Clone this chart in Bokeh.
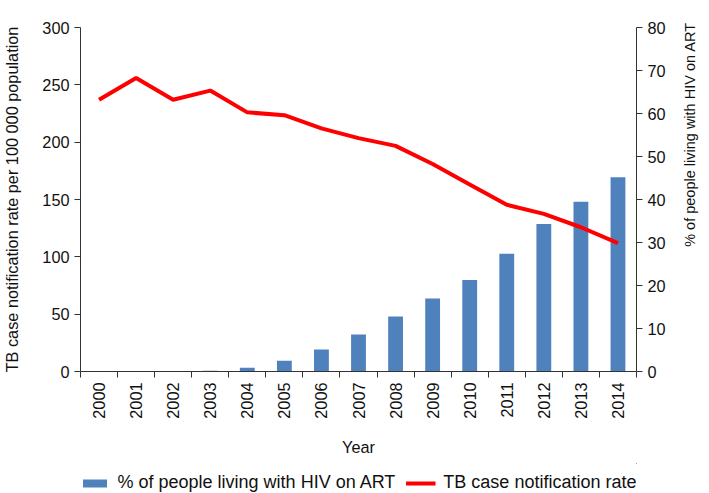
from bokeh.plotting import figure
from bokeh.layouts import column
from bokeh.models import Range1d, LinearAxis, FixedTicker, Legend, LegendItem, ColumnDataSource
from bokeh.embed import file_html
from bokeh.resources import INLINE
import math

years = [2000, 2001, 2002, 2003, 2004, 2005, 2006, 2007, 2008, 2009, 2010, 2011, 2012, 2013, 2014]
art_pct = [0, 0, 0, 0.2, 0.9, 2.5, 5.1, 8.6, 12.8, 17.0, 21.3, 27.4, 34.3, 39.5, 45.2]
tb_rate = [237, 256, 237, 245, 226, 223.5, 212, 203.5, 196.8, 181, 163, 145.4, 137.5, 125.8, 112]
left_ticks = [0, 50, 100, 150, 200, 250, 300]
right_ticks = [0, 10, 20, 30, 40, 50, 60, 70, 80]
series_names = ["% of people living with HIV on ART", "TB case notification rate"]

FONT = "Liberation Sans"
FS = "16.3px"
AX = "#333333"
TXT = "#111111"
BAR_COLOR = "#4F81BD"
LINE_COLOR = "#FF0000"

src = ColumnDataSource(dict(year=years, pct=art_pct, tb=tb_rate))

p = figure(width=709, height=463, output_backend="svg", toolbar_location=None,
           x_range=Range1d(years[0] - 0.5, years[-1] + 0.5), y_range=Range1d(0, 300),
           min_border_left=78, min_border_right=66, min_border_top=27, min_border_bottom=92)
p.extra_y_ranges = {"pct": Range1d(0, 80)}
p.outline_line_color = None
p.xgrid.visible = False
p.ygrid.visible = False

bars = p.vbar(x="year", top="pct", width=0.4, source=src, y_range_name="pct",
              fill_color=BAR_COLOR, line_color=None)
line = p.line(x="year", y="tb", source=src, line_color=LINE_COLOR, line_width=4)

# x axis
xa = p.xaxis[0]
xa.ticker = FixedTicker(ticks=years, minor_ticks=[y - 0.5 for y in years] + [years[-1] + 0.5])
xa.major_tick_line_color = None
xa.minor_tick_line_color = AX
xa.minor_tick_out = 6
xa.minor_tick_in = 0
xa.major_label_orientation = math.pi / 2
xa.axis_label = "Year"
xa.axis_label_standoff = 16

ya = p.yaxis[0]
ya.ticker = FixedTicker(ticks=left_ticks)
ya.axis_label = "TB case notification rate per 100 000 population"
ya.axis_label_standoff = 18

ra = LinearAxis(y_range_name="pct", ticker=FixedTicker(ticks=right_ticks))
p.add_layout(ra, "right")

for ax in [xa, ya, ra]:
    ax.axis_line_color = AX
    ax.major_label_text_font = FONT
    ax.major_label_text_font_size = FS
    ax.major_label_text_color = TXT
    ax.axis_label_text_font = FONT
    ax.axis_label_text_font_size = FS
    ax.axis_label_text_font_style = "normal"
    ax.axis_label_text_color = TXT
    if ax is not xa:
        ax.major_tick_line_color = AX
        ax.major_tick_out = 6
        ax.major_tick_in = 0
        ax.minor_tick_line_color = None

# right-hand title drawn as the single (rotated) tick label of a bare axis, reading bottom to top
rl = LinearAxis(y_range_name="pct", ticker=FixedTicker(ticks=[29]),
                major_label_overrides={29: series_names[0]},
                major_label_orientation=math.pi / 2, major_label_standoff=22,
                axis_line_color=None, major_tick_line_color=None, minor_tick_line_color=None,
                major_tick_out=0, major_tick_in=0,
                major_label_text_font=FONT, major_label_text_font_size="14.5px",
                major_label_text_color=TXT)
p.add_layout(rl, "right")

# legend strip below the chart (proxy renderers use the same data, kept out of view)
lg = figure(width=709, height=30, output_backend="svg", toolbar_location=None,
            x_axis_location=None, y_axis_location=None,
            x_range=Range1d(0, 1), y_range=Range1d(-1000, -999),
            min_border_left=0, min_border_right=0, min_border_top=0, min_border_bottom=0)
lg.outline_line_color = None
lg.xgrid.visible = False
lg.ygrid.visible = False
lg_bar = lg.vbar(x="year", top="pct", width=0.4, source=src, fill_color=BAR_COLOR, line_color=None)
lg_line = lg.line(x="year", y="tb", source=src, line_color=LINE_COLOR, line_width=4)
legend = Legend(items=[LegendItem(label=series_names[0], renderers=[lg_bar]),
                       LegendItem(label=series_names[1], renderers=[lg_line])],
                orientation="horizontal", location="bottom_center",
                label_text_font=FONT, label_text_font_size="18px", label_text_color=TXT,
                glyph_width=30, glyph_height=10, label_standoff=8, spacing=10,
                border_line_color=None, background_fill_alpha=0, padding=0, margin=0)
lg.add_layout(legend)

layout = column(p, lg, spacing=0)
open("out.html", "w").write(file_html(layout, INLINE))
